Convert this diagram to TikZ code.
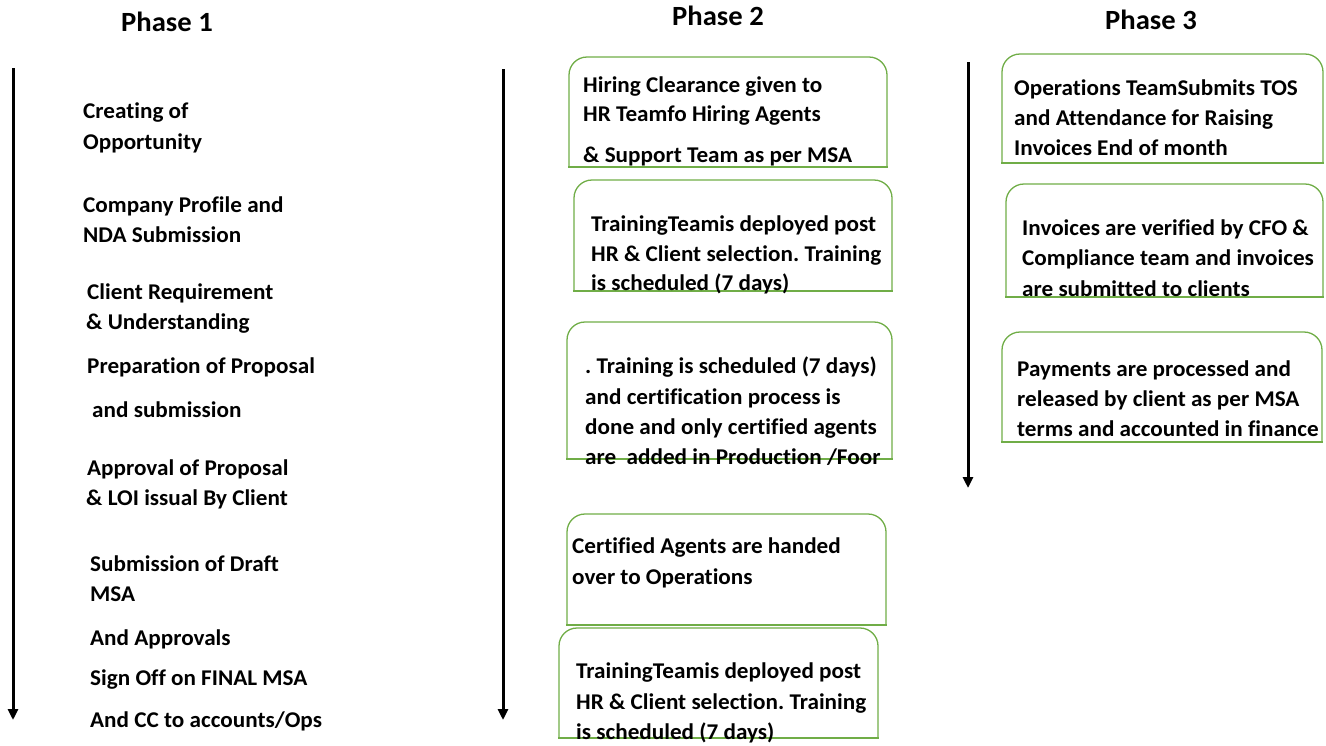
\documentclass[tikz,border=0pt]{standalone}
\usepackage{fontspec}
\setmainfont{Carlito}[Ligatures=NoCommon, FakeStretch=1.03]
\usetikzlibrary{arrows.meta}
\definecolor{boxgreen}{HTML}{70AD47}
\frenchspacing
\begin{document}
\begin{tikzpicture}[x=1pt,y=-1pt,
  txt/.style={anchor=mid west, inner sep=0pt, yshift=-5pt, font=\fontsize{22.5}{26}\selectfont\bfseries\frenchspacing},
  head/.style={anchor=center, inner sep=0pt, font=\fontsize{27.8}{31}\selectfont\bfseries},
  boxline/.style={draw=boxgreen, line width=1.3pt, line cap=rect},
  timeline/.style={line width=3pt, -{Triangle[length=11pt,width=10pt]}}]
\useasboundingbox (0,0) rectangle (1326,745);
\newcommand\greenbox[5]{%
  \coordinate (#1nw) at (#2,#3);
  \coordinate (#1se) at (#4,#5);
  \draw[boxline] (#1se -| #1nw) [rounded corners=18pt] -- (#1nw) -- (#1nw -| #1se) -- (#1se);
  \draw[boxline] (#1se) -- (#1se -| #1nw);}
% headings
\node[head] (h1) at (167,22) {Phase 1};
\node[head] (h2) at (718,16) {Phase 2};
\node[head] (h3) at (1151,20) {Phase 3};
% timelines
\coordinate (t1s) at (13,68);  \coordinate (t1e) at (13,720);
\coordinate (t2s) at (503,69); \coordinate (t2e) at (503,720);
\coordinate (t3s) at (968,62); \coordinate (t3e) at (968,488);
\draw[timeline] (t1s) -- (t1e);
\draw[timeline] (t2s) -- (t2e);
\draw[timeline] (t3s) -- (t3e);
% phase 1 texts
\node[txt] (p1a) at (83,111) {Creating of};
\node[txt] (p1b) at (83,142) {Opportunity};
\node[txt] (p1c) at (83,205) {Company Profile and};
\node[txt] (p1d) at (83,235) {NDA Submission};
\node[txt] (p1e) at (87,292) {Client Requirement};
\node[txt] (p1f) at (86,322) {\& Understanding};
\node[txt] (p1g) at (87,366) {Preparation of Proposal};
\node[txt] (p1h) at (92,410) {and submission};
\node[txt] (p1i) at (87,468) {Approval of Proposal};
\node[txt] (p1j) at (86,498) {\& LOI issual By Client};
\node[txt] (p1k) at (90,564) {Submission of Draft};
\node[txt] (p1l) at (90,594) {MSA};
\node[txt] (p1m) at (90,638) {And Approvals};
\node[txt] (p1n) at (90,678) {Sign Off on FINAL MSA};
\node[txt] (p1o) at (90,720) {And CC to accounts/Ops};
% phase 2 boxes
\greenbox{ba}{569}{57}{887}{167}
\node[txt] (ba1) at (583,85) {Hiring Clearance given to};
\node[txt] (ba2) at (583,114) {HR Teamfo Hiring Agents};
\node[txt] (ba3) at (583,155) {\& Support Team as per MSA};
\greenbox{bb}{574}{180}{892}{291}
\node[txt] (bb1) at (591,224) {TrainingTeamis deployed post};
\node[txt] (bb2) at (591,254) {HR \& Client selection. Training};
\node[txt] (bb3) at (591,283) {is scheduled (7 days)};
\greenbox{bc}{567}{322}{892}{459}
\node[txt] (bc1) at (585,366) {. Training is scheduled (7 days)};
\node[txt] (bc2) at (585,397) {and certification process is};
\node[txt] (bc3) at (585,427) {done and only certified agents};
\node[txt] (bc4) at (585,457) {are\ \ added in Production /Foor};
\greenbox{bd}{567}{514}{886}{625}
\node[txt] (bd1) at (572,546) {Certified Agents are handed};
\node[txt] (bd2) at (572,577) {over to Operations};
\greenbox{be}{559}{628}{878}{738}
\node[txt] (be1) at (576,671) {TrainingTeamis deployed post};
\node[txt] (be2) at (576,702) {HR \& Client selection. Training};
\node[txt] (be3) at (576,732) {is scheduled (7 days)};
% phase 3 boxes
\greenbox{bf}{1002}{54}{1323}{163}
\node[txt] (bf1) at (1014,88) {Operations TeamSubmits TOS};
\node[txt] (bf2) at (1014,118) {and Attendance for Raising};
\node[txt] (bf3) at (1014,148) {Invoices End of month};
\greenbox{bg}{1006}{184}{1323}{297}
\node[txt] (bg1) at (1022,228) {Invoices are verified by CFO \&};
\node[txt] (bg2) at (1022,258) {Compliance team and invoices};
\node[txt] (bg3) at (1022,289) {are submitted to clients};
\greenbox{bh}{1002}{332}{1322}{442}
\node[txt] (bh1) at (1017,369) {Payments are processed and};
\node[txt] (bh2) at (1017,399) {released by client as per MSA};
\node[txt] (bh3) at (1017,429) {terms and accounted in finance};
\end{tikzpicture}
\end{document}
